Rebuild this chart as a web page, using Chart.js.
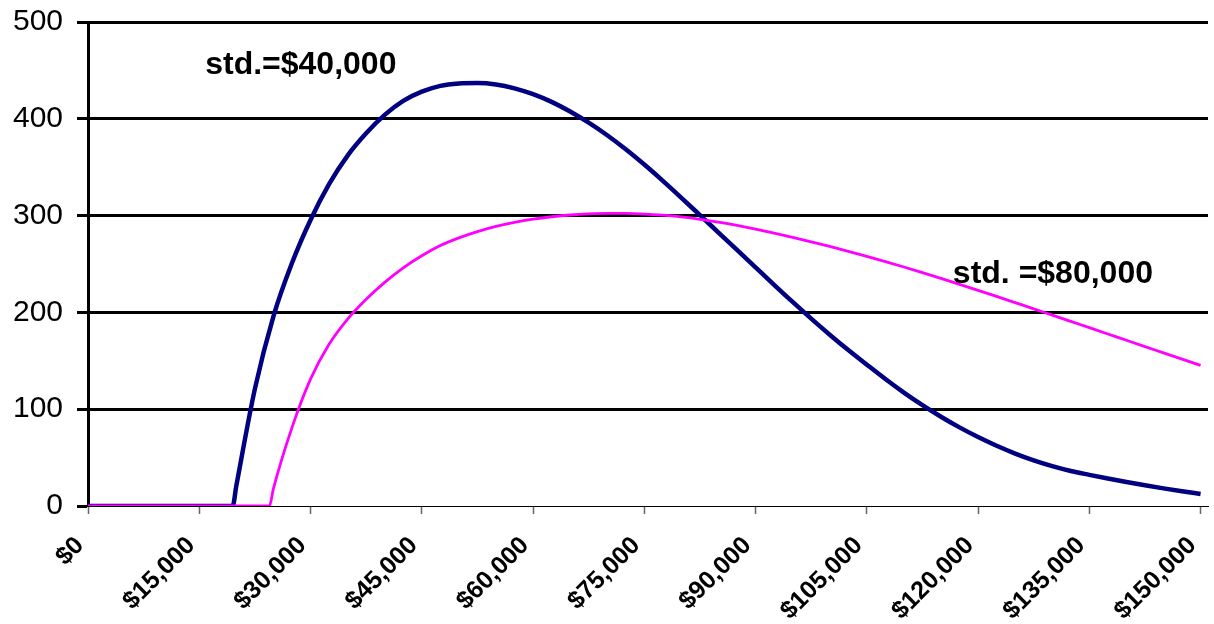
<!DOCTYPE html>
<html>
<head>
<meta charset="utf-8">
<script src="https://cdn.jsdelivr.net/npm/chart.js@4.4.0/dist/chart.umd.min.js"></script>
<style>
  html, body { margin: 0; padding: 0; background: #fff; }
  #wrap { width: 1214px; height: 624px; position: relative; }
</style>
</head>
<body>
<div id="wrap"><canvas id="myChart"></canvas></div>
<script>
// salary ($) and count for std = $40,000 (navy)
const salary40 = [0, 19500, 20000, 22500, 25000, 27500, 30000, 32500, 35000, 37500, 40000,
                  42500, 45000, 47500, 50000, 52500, 55000, 57500, 60000, 62500, 65000,
                  67500, 70000, 72500, 75000, 77500, 80000, 82500, 85000, 87500, 90000,
                  92500, 95000, 97500, 100000, 102500, 105000, 107500, 110000, 112500, 115000,
                  117500, 120000, 122500, 125000, 127500, 130000, 132500, 135000, 137500, 140000,
                  142500, 145000, 147500, 150000];
const count40  = [0, 0, 21, 121, 196, 251, 295.5, 332.5, 362, 385, 404,
                  418.5, 428, 434, 436.5, 437, 435.5, 431.5, 425.5, 417.5, 407.5,
                  396, 383, 368.5, 352.7, 335.9, 318.4, 300.5, 282.5, 264.5, 246.5,
                  228.5, 210.8, 193.6, 177, 161.1, 146, 131.2, 117.2, 104.2, 92.2,
                  81.2, 71.2, 62.2, 54.2, 47.2, 41.2, 36.2, 32.2, 28.4, 24.8,
                  21.4, 18.2, 15.2, 12.4];

// salary ($) and count for std = $80,000 (magenta)
const salary80 = [0, 24450, 25000, 27500, 30000, 32500, 35000, 37500, 40000,
                  42500, 45000, 47500, 50000, 52500, 55000, 57500, 60000, 62500, 65000,
                  67500, 70000, 72500, 75000, 77500, 80000, 82500, 85000, 87500, 90000,
                  92500, 95000, 97500, 100000, 102500, 105000, 107500, 110000, 112500, 115000,
                  117500, 120000, 122500, 125000, 127500, 130000, 132500, 135000, 137500, 140000,
                  142500, 145000, 147500, 150000];
const count80  = [0, 0, 18, 81, 131, 167, 193, 213.5, 231,
                  246, 258.5, 269, 277, 283.5, 288.8, 293, 296.3, 298.8, 300.6,
                  301.7, 302.2, 302.2, 301.6, 300.4, 298.6, 296.2, 293.2, 289.8, 286,
                  281.9, 277.5, 272.9, 268.1, 263.1, 257.9, 252.5, 246.9, 241.1, 235.1,
                  229, 222.8, 216.5, 210.1, 203.7, 197.2, 190.7, 184.2, 177.7, 171.2,
                  164.7, 158.2, 151.7, 145.2];

const xTicks = [0, 15000, 30000, 45000, 60000, 75000, 90000, 105000, 120000, 135000, 150000];
const yTicks = [0, 100, 200, 300, 400, 500];

const labelTexts = ['std.=$40,000', 'std. =$80,000'];
const labelSalary = [15800, 116600];
const labelCount = [455, 240];

const ctx = document.getElementById('myChart');

function puntos(xs, ys){
    return xs.map((x, i) => ({x: x, y: ys[i]}));
}

const etiquetas = {
    id: 'etiquetas',
    afterDatasetsDraw(chart){
        const c = chart.ctx;
        const sx = chart.scales.x;
        const sy = chart.scales.y;
        c.save();
        c.font = 'bold 32px "Liberation Sans", Arial, sans-serif';
        c.fillStyle = '#000';
        c.textAlign = 'left';
        c.textBaseline = 'middle';
        labelTexts.forEach((t, i) => {
            c.fillText(t, sx.getPixelForValue(labelSalary[i]), sy.getPixelForValue(labelCount[i]));
        });
        c.restore();
    }
};

const myChart = new Chart(ctx, {
    type: 'line',
    data: {
        datasets: [{
            data: puntos(salary80, count80),
            borderColor: '#FF00FF',
            borderWidth: 2.8,
            pointRadius: 0,
            cubicInterpolationMode: 'monotone'
        }, {
            data: puntos(salary40, count40),
            borderColor: '#000080',
            borderWidth: 4.5,
            pointRadius: 0,
            cubicInterpolationMode: 'monotone'
        }]
    },
    options: {
        responsive: true,
        maintainAspectRatio: false,
        animation: false,
        events: [],
        layout: {
            padding: { left: 10, right: 6, top: 22, bottom: 0 }
        },
        scales: {
            x: {
                type: 'linear',
                min: 0,
                max: 151000,
                afterBuildTicks: (scale) => { scale.ticks = xTicks.map(v => ({value: v})); },
                afterFit: (scale) => {
                    scale.height = 118;
                    scale.paddingLeft = 0;
                    scale.paddingRight = 0;
                },
                grid: {
                    drawOnChartArea: false,
                    drawTicks: true,
                    tickLength: 8,
                    tickColor: '#666',
                    tickWidth: 1.5
                },
                border: { display: true, color: '#000', width: 1 },
                ticks: {
                    autoSkip: false,
                    includeBounds: false,
                    maxRotation: 45,
                    minRotation: 45,
                    padding: 17,
                    labelOffset: -8,
                    color: '#000',
                    font: { family: '"Liberation Sans", Arial, sans-serif', size: 25, weight: 'bold' },
                    callback: (v) => '$' + v.toLocaleString('en-US')
                }
            },
            y: {
                min: 0,
                max: 500,
                afterBuildTicks: (scale) => { scale.ticks = yTicks.map(v => ({value: v})); },
                afterFit: (scale) => {
                    scale.width = 78;
                    scale.paddingTop = 0;
                    scale.paddingBottom = 0;
                },
                grid: {
                    color: '#000',
                    lineWidth: (c) => c.tick && c.tick.value === 0 ? 1 : 3,
                    tickLength: 11,
                    tickWidth: 3,
                    tickColor: '#000'
                },
                border: { display: true, color: '#000', width: 3 },
                ticks: {
                    padding: 14,
                    color: '#000',
                    font: { family: '"Liberation Sans", Arial, sans-serif', size: 30 }
                }
            }
        },
        plugins: {
            legend: { display: false },
            tooltip: { enabled: false },
            title: { display: false }
        }
    },
    plugins: [etiquetas]
});
</script>
</body>
</html>
